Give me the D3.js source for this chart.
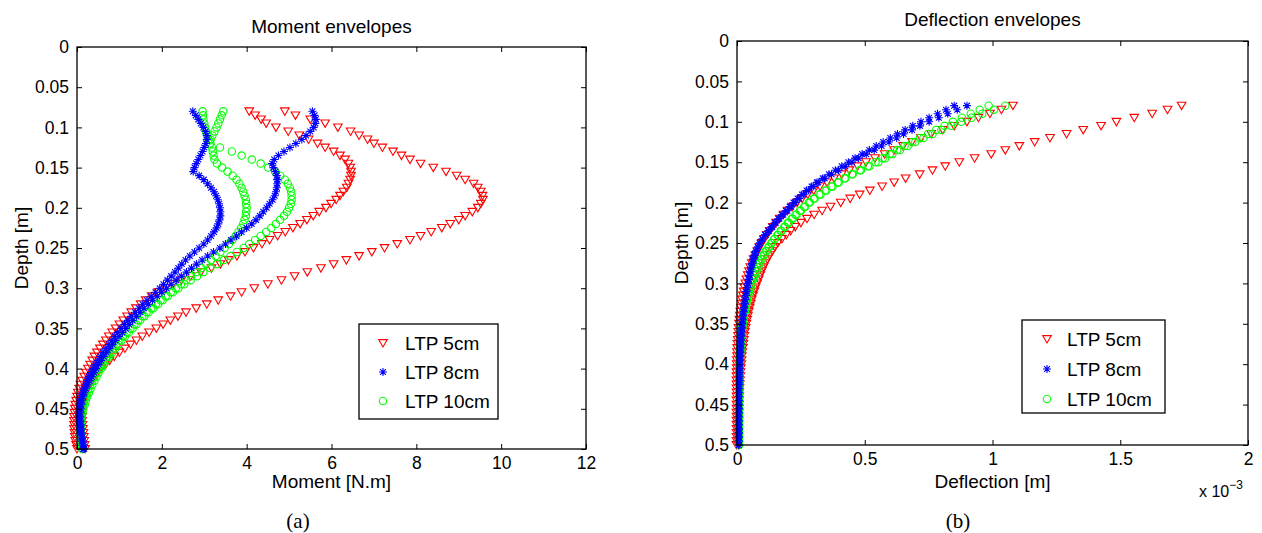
<!DOCTYPE html>
<html><head><meta charset="utf-8">
<script src="https://cdn.jsdelivr.net/npm/d3@7"></script>
<style>
html,body{margin:0;padding:0;background:#fff;}
svg{display:block;}
</style></head>
<body>
<svg id="chart" width="1262" height="533"></svg>
<script>
// ---------- DATA ----------
const depth = [
 0.080,0.085,0.090,0.095,0.100,0.105,0.110,0.115,0.120,0.125,
 0.130,0.135,0.140,0.145,0.150,0.155,0.160,0.165,0.170,0.175,
 0.180,0.185,0.190,0.195,0.200,0.205,0.210,0.215,0.220,0.225,
 0.230,0.235,0.240,0.245,0.250,0.255,0.260,0.265,0.270,0.275,
 0.280,0.285,0.290,0.295,0.300,0.305,0.310,0.315,0.320,0.325,
 0.330,0.335,0.340,0.345,0.350,0.355,0.360,0.365,0.370,0.375,
 0.380,0.385,0.390,0.395,0.400,0.405,0.410,0.415,0.420,0.425,
 0.430,0.435,0.440,0.445,0.450,0.455,0.460,0.465,0.470,0.475,
 0.480,0.485,0.490,0.495,0.500];

const seriesNames = ["LTP 5cm","LTP 8cm","LTP 10cm"];

// Moment envelopes [N.m]
const momentLTP5a = [
 4.90,5.15,5.50,5.85,6.15,6.45,6.65,6.85,7.00,7.20,
 7.45,7.65,7.85,8.10,8.40,8.70,8.95,9.15,9.35,9.45,
 9.52,9.56,9.57,9.52,9.45,9.32,9.15,9.00,8.80,8.60,
 8.35,8.10,7.85,7.55,7.25,6.95,6.65,6.35,6.05,5.75,
 5.43,5.13,4.82,4.50,4.18,3.88,3.62,3.33,3.06,2.81,
 2.57,2.38,2.20,2.03,1.87,1.70,1.54,1.40,1.26,1.13,
 1.00,0.88,0.77,0.67,0.57,0.49,0.42,0.36,0.30,0.25,
 0.20,0.17,0.15,0.13,0.12,0.12,0.12,0.12,0.13,0.14,
 0.15,0.16,0.17,0.18,0.19];
const momentLTP5b = [
 4.06,4.20,4.34,4.46,4.69,4.98,5.24,5.46,5.67,5.85,
 6.05,6.20,6.32,6.40,6.44,6.46,6.46,6.44,6.40,6.36,
 6.28,6.20,6.11,5.99,5.87,5.71,5.57,5.42,5.26,5.09,
 4.91,4.73,4.54,4.36,4.16,3.96,3.77,3.57,3.38,3.17,
 2.92,2.68,2.46,2.26,2.08,1.91,1.76,1.62,1.50,1.39,
 1.28,1.18,1.09,1.00,0.91,0.83,0.75,0.68,0.61,0.54,
 0.47,0.41,0.36,0.31,0.26,0.21,0.17,0.12,0.08,0.05,
 0.02,0.00,-0.02,-0.04,-0.05,-0.06,-0.07,-0.07,-0.07,-0.07,
 -0.06,-0.05,-0.04,-0.02,0.00];
const momentLTP8a = [
 2.73,2.80,2.86,2.92,2.98,3.03,3.06,3.06,3.04,3.00,
 2.96,2.91,2.86,2.81,2.77,2.74,2.88,2.99,3.08,3.16,
 3.23,3.28,3.32,3.35,3.37,3.38,3.38,3.36,3.33,3.29,
 3.23,3.16,3.08,2.99,2.88,2.77,2.66,2.56,2.47,2.39,
 2.31,2.22,2.13,2.04,1.95,1.85,1.75,1.65,1.55,1.46,
 1.37,1.28,1.20,1.12,1.04,0.96,0.89,0.82,0.75,0.68,
 0.61,0.55,0.49,0.43,0.38,0.33,0.28,0.24,0.20,0.16,
 0.13,0.10,0.08,0.06,0.05,0.04,0.04,0.05,0.06,0.07,
 0.08,0.10,0.11,0.13,0.14];
const momentLTP8b = [
 5.55,5.60,5.63,5.62,5.58,5.50,5.40,5.30,5.16,5.02,
 4.88,4.75,4.65,4.60,4.63,4.68,4.71,4.72,4.72,4.71,
 4.69,4.66,4.61,4.54,4.47,4.39,4.31,4.22,4.12,4.00,
 3.88,3.76,3.63,3.50,3.37,3.22,3.08,2.95,2.82,2.70,
 2.58,2.46,2.34,2.22,2.11,2.00,1.89,1.78,1.68,1.58,
 1.49,1.40,1.31,1.23,1.15,1.07,0.99,0.91,0.84,0.77,
 0.70,0.63,0.57,0.51,0.45,0.40,0.35,0.30,0.25,0.21,
 0.17,0.14,0.12,0.10,0.09,0.08,0.08,0.08,0.09,0.10,
 0.11,0.13,0.14,0.16,0.17];
const momentLTP10a = [
 3.45,3.41,3.37,3.33,3.29,3.24,3.19,3.15,3.14,3.37,
 3.65,3.88,4.12,4.33,4.51,4.67,4.79,4.90,4.97,5.02,
 5.05,5.06,5.06,5.04,5.00,4.95,4.88,4.79,4.69,4.58,
 4.46,4.33,4.20,4.06,3.93,3.77,3.62,3.46,3.30,3.14,
 2.98,2.83,2.68,2.53,2.39,2.26,2.14,2.02,1.91,1.80,
 1.69,1.59,1.49,1.40,1.31,1.22,1.13,1.05,0.97,0.90,
 0.83,0.76,0.69,0.63,0.57,0.51,0.46,0.41,0.36,0.32,
 0.28,0.24,0.21,0.18,0.15,0.13,0.11,0.10,0.09,0.09,
 0.09,0.10,0.11,0.12,0.13];
const momentLTP10b = [
 2.96,2.97,2.98,3.00,3.02,3.04,3.07,3.10,3.14,3.18,
 3.20,3.22,3.24,3.30,3.42,3.55,3.67,3.76,3.83,3.88,
 3.92,3.95,3.98,3.99,4.00,3.99,3.98,3.95,3.92,3.87,
 3.81,3.74,3.66,3.58,3.48,3.38,3.27,3.16,3.05,2.93,
 2.81,2.69,2.57,2.45,2.33,2.21,2.09,1.97,1.86,1.75,
 1.64,1.54,1.44,1.35,1.26,1.17,1.08,1.00,0.92,0.85,
 0.78,0.71,0.64,0.58,0.52,0.46,0.41,0.36,0.31,0.27,
 0.23,0.20,0.17,0.14,0.12,0.10,0.09,0.08,0.08,0.08,
 0.08,0.09,0.10,0.11,0.12];

// Deflection envelopes [m x 10^-3]
const deflLTP5a = [
 1.740,1.685,1.625,1.555,1.485,1.425,1.355,1.290,1.225,1.165,
 1.105,1.050,0.995,0.930,0.870,0.815,0.765,0.715,0.660,0.615,
 0.568,0.520,0.480,0.443,0.406,0.366,0.333,0.302,0.274,0.250,
 0.228,0.210,0.193,0.176,0.160,0.148,0.138,0.128,0.119,0.111,
 0.104,0.097,0.091,0.085,0.079,0.073,0.068,0.063,0.058,0.054,
 0.050,0.046,0.043,0.040,0.037,0.034,0.031,0.029,0.027,0.025,
 0.023,0.021,0.019,0.018,0.017,0.015,0.014,0.013,0.012,0.011,
 0.010,0.009,0.009,0.008,0.008,0.007,0.007,0.006,0.006,0.006,
 0.005,0.005,0.005,0.005,0.005];
const deflLTP5b = [
 1.080,1.035,0.990,0.945,0.900,0.850,0.805,0.760,0.720,0.685,
 0.650,0.615,0.578,0.540,0.505,0.472,0.440,0.410,0.380,0.352,
 0.325,0.300,0.277,0.255,0.235,0.216,0.198,0.182,0.167,0.153,
 0.140,0.128,0.117,0.107,0.097,0.088,0.080,0.072,0.065,0.058,
 0.052,0.047,0.042,0.037,0.033,0.029,0.026,0.023,0.020,0.018,
 0.015,0.013,0.011,0.009,0.008,0.006,0.005,0.004,0.003,0.002,
 0.001,0.000,0.000,-0.001,-0.001,-0.001,-0.002,-0.002,-0.002,-0.002,
 -0.002,-0.002,-0.002,-0.002,-0.002,-0.002,-0.002,-0.002,-0.002,-0.002,
 -0.002,-0.002,-0.002,-0.002,-0.002];
const deflLTP8a = [
 0.900,0.862,0.825,0.790,0.752,0.716,0.685,0.652,0.625,0.595,
 0.566,0.537,0.506,0.476,0.450,0.424,0.397,0.370,0.343,0.318,
 0.298,0.279,0.260,0.243,0.227,0.212,0.197,0.181,0.166,0.152,
 0.138,0.125,0.112,0.100,0.090,0.082,0.075,0.070,0.065,0.061,
 0.057,0.053,0.050,0.047,0.044,0.041,0.038,0.035,0.033,0.030,
 0.028,0.026,0.024,0.022,0.021,0.019,0.018,0.017,0.016,0.015,
 0.014,0.013,0.012,0.012,0.011,0.011,0.010,0.010,0.009,0.009,
 0.009,0.008,0.008,0.008,0.008,0.008,0.007,0.007,0.007,0.007,
 0.007,0.007,0.007,0.007,0.007];
const deflLTP8b = [
 0.850,0.818,0.785,0.752,0.720,0.688,0.658,0.628,0.600,0.572,
 0.545,0.518,0.490,0.462,0.436,0.410,0.385,0.360,0.336,0.313,
 0.292,0.272,0.254,0.237,0.221,0.206,0.191,0.176,0.162,0.148,
 0.135,0.122,0.110,0.099,0.089,0.081,0.074,0.068,0.063,0.059,
 0.055,0.051,0.048,0.045,0.042,0.039,0.036,0.034,0.031,0.029,
 0.027,0.025,0.023,0.021,0.020,0.018,0.017,0.016,0.015,0.014,
 0.013,0.012,0.012,0.011,0.011,0.010,0.010,0.009,0.009,0.009,
 0.008,0.008,0.008,0.008,0.007,0.007,0.007,0.007,0.007,0.007,
 0.007,0.007,0.007,0.007,0.007];
const deflLTP10a = [
 1.050,1.005,0.960,0.918,0.878,0.838,0.800,0.765,0.730,0.698,
 0.668,0.638,0.608,0.580,0.553,0.518,0.485,0.453,0.424,0.398,
 0.374,0.350,0.327,0.304,0.285,0.267,0.250,0.233,0.218,0.203,
 0.188,0.174,0.161,0.148,0.137,0.126,0.116,0.107,0.098,0.090,
 0.083,0.076,0.070,0.064,0.058,0.053,0.048,0.044,0.040,0.036,
 0.033,0.030,0.027,0.025,0.023,0.021,0.019,0.018,0.016,0.015,
 0.014,0.013,0.012,0.012,0.011,0.011,0.010,0.010,0.010,0.009,
 0.009,0.009,0.009,0.008,0.008,0.008,0.008,0.008,0.008,0.008,
 0.008,0.008,0.008,0.008,0.008];
const deflLTP10b = [
 0.985,0.950,0.915,0.880,0.845,0.812,0.780,0.748,0.716,0.686,
 0.656,0.627,0.598,0.570,0.542,0.512,0.480,0.450,0.421,0.394,
 0.369,0.345,0.322,0.300,0.281,0.263,0.246,0.229,0.214,0.199,
 0.185,0.171,0.158,0.146,0.134,0.123,0.113,0.104,0.096,0.088,
 0.081,0.074,0.068,0.062,0.057,0.052,0.047,0.043,0.039,0.035,
 0.032,0.029,0.026,0.024,0.022,0.020,0.019,0.017,0.016,0.015,
 0.014,0.013,0.012,0.011,0.011,0.010,0.010,0.010,0.009,0.009,
 0.009,0.009,0.008,0.008,0.008,0.008,0.008,0.008,0.008,0.008,
 0.008,0.008,0.008,0.008,0.008];

// Ticks
const depthTicks = [0,0.05,0.1,0.15,0.2,0.25,0.3,0.35,0.4,0.45,0.5];
const depthTickLabels = ["0","0.05","0.1","0.15","0.2","0.25","0.3","0.35","0.4","0.45","0.5"];
const momentTicks = [0,2,4,6,8,10,12];
const momentTickLabels = ["0","2","4","6","8","10","12"];
const deflTicks = [0,0.5,1,1.5,2];
const deflTickLabels = ["0","0.5","1","1.5","2"];

// ---------- DRAWING ----------
const SANS = '"Liberation Sans", Arial, Helvetica, sans-serif';
const SERIF = '"Liberation Serif", "Times New Roman", serif';
const svg = d3.select("#chart");
const colors = ["#ff0000","#0000ff","#00ff00"];
const markers = ["tri","star","circle"];

function drawMarker(sel, kind, color){
  if(kind==="tri"){
    sel.append("path").attr("d","M-4.3,-3.4L4.3,-3.4L0,4Z")
      .attr("fill","none").attr("stroke",color).attr("stroke-width",1.1);
  } else if(kind==="star"){
    sel.append("path").attr("d","M-4,0L4,0M0,-4L0,4M-2.9,-2.9L2.9,2.9M-2.9,2.9L2.9,-2.9")
      .attr("fill","none").attr("stroke",color).attr("stroke-width",1.1);
  } else {
    sel.append("circle").attr("r",3.7)
      .attr("fill","none").attr("stroke",color).attr("stroke-width",1.1);
  }
}

function txt(sel, size, family){
  return sel.style("font-family", family||SANS).style("font-size", size+"px").style("fill","#000");
}

function panel(cfg){
  const x = d3.scaleLinear().domain(cfg.xDomain).range([cfg.left,cfg.right]);
  const y = d3.scaleLinear().domain([0,0.5]).range([cfg.top,cfg.bottom]);
  const g = svg.append("g");

  cfg.series.forEach(s=>{
    const pts = d3.zip(depth, s.values);
    const mg = g.append("g");
    pts.forEach(p=>{
      const m = mg.append("g").attr("transform",`translate(${x(p[1])},${y(p[0])})`);
      drawMarker(m, markers[s.idx], colors[s.idx]);
    });
  });

  g.append("rect").attr("x",cfg.left).attr("y",cfg.top)
    .attr("width",cfg.right-cfg.left).attr("height",cfg.bottom-cfg.top)
    .attr("fill","none").attr("stroke","#000").attr("stroke-width",1.3);

  const ax = d3.axisBottom(x).tickValues(cfg.xTicks).tickSize(-5).tickPadding(8)
    .tickFormat((d,i)=>cfg.xTickLabels[i]);
  const gx = g.append("g").attr("transform",`translate(0,${cfg.bottom})`).call(ax);
  const axTop = d3.axisTop(x).tickValues(cfg.xTicks).tickSize(-5).tickFormat("");
  const gxt = g.append("g").attr("transform",`translate(0,${cfg.top})`).call(axTop);
  const ay = d3.axisLeft(y).tickValues(depthTicks).tickSize(-5).tickPadding(8)
    .tickFormat((d,i)=>depthTickLabels[i]);
  const gy = g.append("g").attr("transform",`translate(${cfg.left},0)`).call(ay);
  const ayR = d3.axisRight(y).tickValues(depthTicks).tickSize(-5).tickFormat("");
  const gyr = g.append("g").attr("transform",`translate(${cfg.right},0)`).call(ayR);
  [gx,gxt,gy,gyr].forEach(a=>{
    a.select(".domain").remove();
    a.selectAll("line").attr("stroke","#000").attr("stroke-width",1);
    txt(a.selectAll("text"), 17.5);
  });

  txt(g.append("text").attr("x",(cfg.left+cfg.right)/2).attr("y",cfg.titleY)
    .attr("text-anchor","middle"), 19).text(cfg.title);
  txt(g.append("text").attr("x",(cfg.left+cfg.right)/2).attr("y",488)
    .attr("text-anchor","middle"), 19).text(cfg.xLabel);
  txt(g.append("text").attr("transform",`translate(${cfg.ylabX},${(cfg.top+cfg.bottom)/2}) rotate(-90)`)
    .attr("text-anchor","middle"), 19).text("Depth [m]");
  txt(g.append("text").attr("x",cfg.capX).attr("y",528)
    .attr("text-anchor","middle"), 21, SERIF).text(cfg.caption);

  const L = cfg.legend;
  const lg = g.append("g");
  lg.append("rect").attr("x",L.x).attr("y",L.y).attr("width",L.w).attr("height",L.h)
    .attr("fill","#fff").attr("stroke","#000").attr("stroke-width",1.3);
  seriesNames.forEach((n,i)=>{
    const cy = L.y + L.row0 + i*L.dy;
    const m = lg.append("g").attr("transform",`translate(${L.x+L.mx},${cy})`);
    drawMarker(m, markers[i], colors[i]);
    txt(lg.append("text").attr("x",L.x+L.tx).attr("y",cy+7), 19).text(n);
  });
  return g;
}

panel({
  left:77,right:586,top:47,bottom:449,xDomain:[0,12],
  xTicks:momentTicks,xTickLabels:momentTickLabels,
  title:"Moment envelopes",titleY:33,xLabel:"Moment [N.m]",ylabX:28,
  caption:"(a)",capX:298,
  legend:{x:359,y:324,w:139,h:95,row0:19,dy:29,mx:24,tx:46},
  series:[
    {idx:0,values:momentLTP5a},{idx:0,values:momentLTP5b},
    {idx:2,values:momentLTP10a},{idx:2,values:momentLTP10b},
    {idx:1,values:momentLTP8a},{idx:1,values:momentLTP8b}
  ]
});

const g2 = panel({
  left:737,right:1248,top:41,bottom:445,xDomain:[0,2],
  xTicks:deflTicks,xTickLabels:deflTickLabels,
  title:"Deflection envelopes",titleY:26,xLabel:"Deflection [m]",ylabX:688,
  caption:"(b)",capX:958,
  legend:{x:1022,y:320,w:143,h:93,row0:19,dy:30,mx:25,tx:45},
  series:[
    {idx:0,values:deflLTP5a},{idx:0,values:deflLTP5b},
    {idx:2,values:deflLTP10a},{idx:2,values:deflLTP10b},
    {idx:1,values:deflLTP8a},{idx:1,values:deflLTP8b}
  ]
});
const ex = txt(g2.append("text").attr("x",1199).attr("y",497), 16);
ex.append("tspan").text("x 10");
ex.append("tspan").attr("dy",-8).style("font-size","12px").text("−3");
</script>
</body></html>
